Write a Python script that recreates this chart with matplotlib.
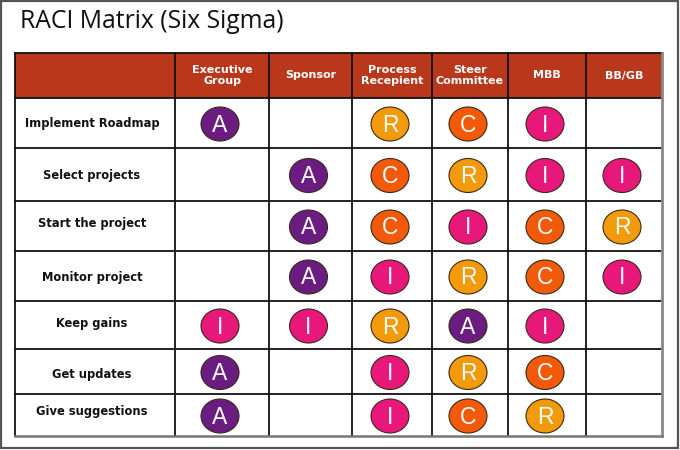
"""
RACI matrix (Six Sigma) drawn as a table of coloured role bubbles.
"""
import matplotlib
matplotlib.use("Agg")
import matplotlib.pyplot as plt
from matplotlib.patches import Ellipse, Rectangle

plt.rcParams['font.family'] = ['DejaVu Sans']

TITLE = "RACI Matrix (Six Sigma)"
columns = ["Executive\nGroup", "Sponsor", "Process\nRecepient",
           "Steer\nCommittee", "MBB", "BB/GB"]
tasks = ["Implement Roadmap", "Select projects", "Start the project",
         "Monitor project", "Keep gains", "Get updates", "Give suggestions"]
# one string per task, one char per column ('' = empty cell)
raci = [
    ["A", "", "R", "C", "I", ""],
    ["", "A", "C", "R", "I", "I"],
    ["", "A", "C", "I", "C", "R"],
    ["", "A", "I", "R", "C", "I"],
    ["I", "I", "R", "A", "I", ""],
    ["A", "", "I", "R", "C", ""],
    ["A", "", "I", "C", "R", ""],
]

role_colors = {"A": "#6b1c80", "R": "#f39a0a", "C": "#f25a0a", "I": "#e8177a"}
HEADER = "#b9381b"

# layout in pixels
col_edges = [15, 175, 269, 352, 432, 508, 586, 662]
row_edges = [53, 98, 148, 201, 251, 301, 349, 394, 436]
label_dy = [1, 1, -3, 1, -1, 3, -4]

fig = plt.figure(figsize=(6.8, 4.5), dpi=100)
ax = fig.add_axes([0, 0, 1, 1])
ax.set_xlim(0, 680)
ax.set_ylim(450, 0)
ax.axis("off")

# outer picture frame
ax.add_patch(Rectangle((1, 1), 677, 447, fill=False, ec="#555555", lw=1.6))

ax.text(20, 21, TITLE, fontsize=17.8, va="center", ha="left",
        family=["Open Sans", "DejaVu Sans"], color="#111111")

# header band
ax.add_patch(Rectangle((col_edges[0], row_edges[0]),
                       col_edges[-1] - col_edges[0], row_edges[1] - row_edges[0],
                       fc=HEADER, ec="none"))
for j, name in enumerate(columns):
    cx = (col_edges[j + 1] + col_edges[j + 2]) / 2
    cy = (row_edges[0] + row_edges[1]) / 2
    ax.text(cx, cy, name, color="white", fontsize=8, fontweight="bold",
            ha="center", va="center", linespacing=1.1)

# grid lines
for x in col_edges[1:-1]:
    ax.plot([x, x], [row_edges[0], row_edges[-1]], color="#111111", lw=1.3)
for y in row_edges[1:-1]:
    ax.plot([col_edges[0], col_edges[-1]], [y, y], color="#111111", lw=1.3)
ax.plot([col_edges[0], col_edges[0]], [row_edges[0], row_edges[-1]], color="#111111", lw=1.3)
ax.plot([col_edges[0], col_edges[-1]], [row_edges[0], row_edges[0]], color="#111111", lw=1.3)
ax.plot([col_edges[-1], col_edges[-1]], [row_edges[0], row_edges[-1]], color="#888888", lw=2)
ax.plot([col_edges[0], col_edges[-1]], [row_edges[-1], row_edges[-1]], color="#777777", lw=1.8)

for i, task in enumerate(tasks):
    cy = (row_edges[i + 1] + row_edges[i + 2]) / 2
    ax.text((col_edges[0] + col_edges[1]) / 2 - 3, cy + label_dy[i], task,
            fontsize=8.3, fontweight="bold", ha="center", va="center", color="#111111")
    for j, role in enumerate(raci[i]):
        if not role:
            continue
        cx = (col_edges[j + 1] + col_edges[j + 2]) / 2
        ax.add_patch(Ellipse((cx - 2, cy + 1), 38, 34, fc=role_colors[role],
                             ec="#3a2a1a", lw=0.8))
        ax.text(cx - 2, cy + 2, role, color="white", fontsize=16.5, ha="center",
                va="center", family=["Liberation Sans", "DejaVu Sans"])

fig.savefig("out.png", dpi=100)
